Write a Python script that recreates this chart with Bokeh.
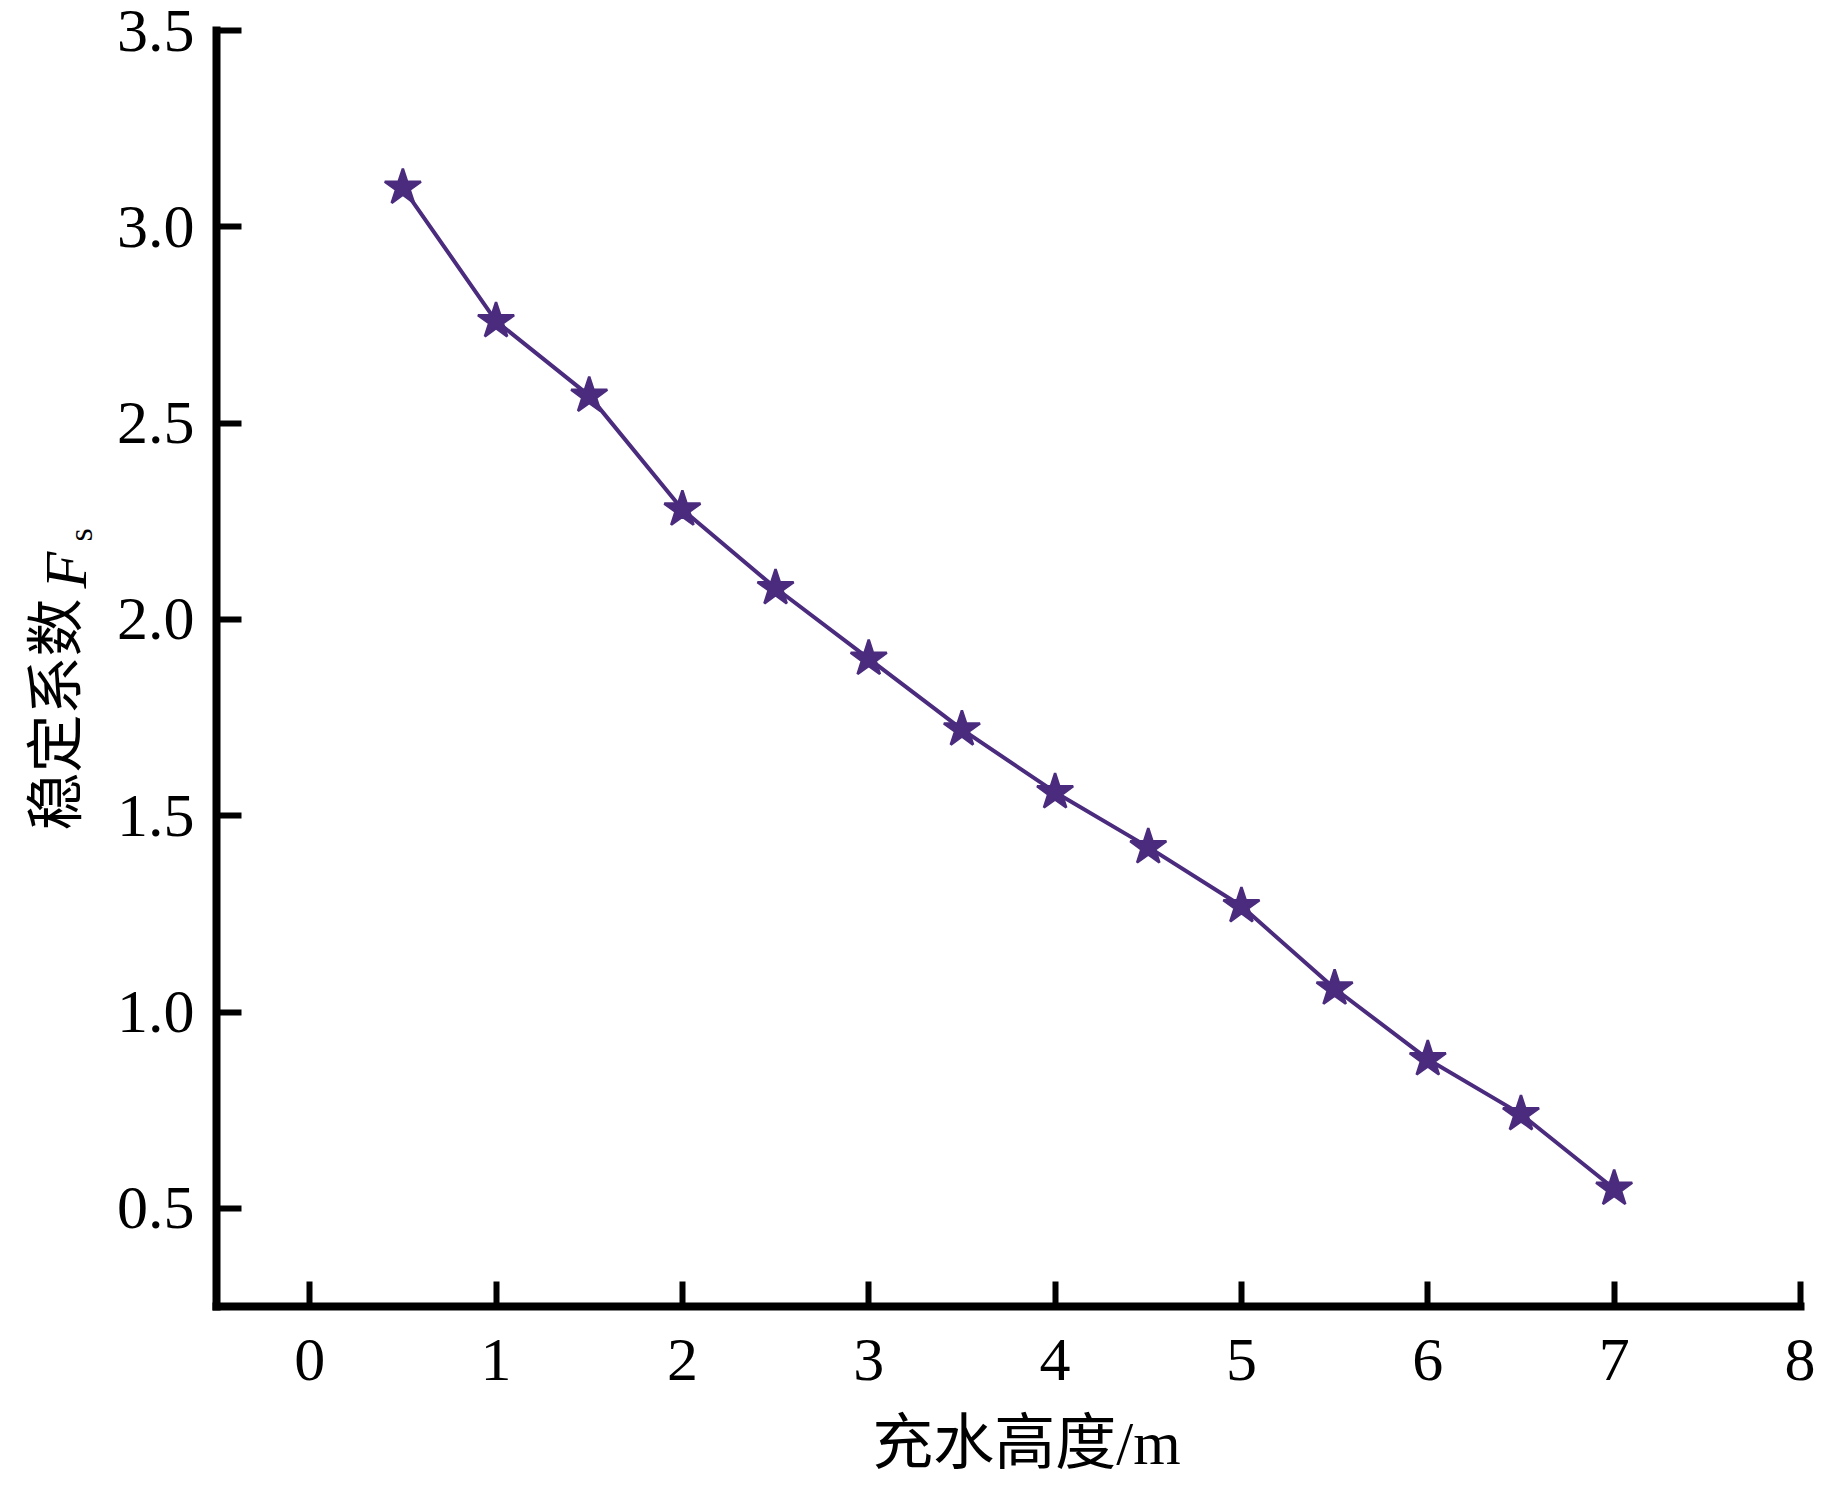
import math
from bokeh.plotting import figure
from bokeh.layouts import row, column
from bokeh.models import Range1d, FixedTicker, ColumnDataSource
from bokeh.core.properties import value
from bokeh.embed import file_html
from bokeh.resources import INLINE

# ---- data ----
fill_height = [0.5, 1.0, 1.5, 2.0, 2.5, 3.0, 3.5, 4.0, 4.5, 5.0, 5.5, 6.0, 6.5, 7.0]
stability_fs = [3.10, 2.76, 2.57, 2.28, 2.08, 1.90, 1.72, 1.56, 1.42, 1.27, 1.06, 0.88, 0.74, 0.55]
x_ticks = [0, 1, 2, 3, 4, 5, 6, 7, 8]
y_ticks = [0.5, 1.0, 1.5, 2.0, 2.5, 3.0, 3.5]
y_tick_labels = ["0.5", "1.0", "1.5", "2.0", "2.5", "3.0", "3.5"]
x_title = "充水高度/m"
y_title_main = "稳定系数"
y_title_sym = "F"
y_title_sub = "s"

SERIF = "Liberation Serif"
MIXED = "Liberation Serif, Noto Sans CJK SC"
COLOR = "#4a2b7d"
W = 1815
PH = 1398   # height of the chart row
BH = 90     # height of the strip holding the x title
TW = 100    # width of the strip holding the y title

# ---- main chart ----
p = figure(width=W - TW, height=PH, output_backend="svg", toolbar_location=None,
           x_range=Range1d(-0.5, 8), y_range=Range1d(0.25, 3.5),
           min_border_left=216 - TW, min_border_right=15, min_border_top=30,
           min_border_bottom=PH - 1306)
p.outline_line_color = None
p.grid.visible = False

for ax in (p.xaxis[0], p.yaxis[0]):
    ax.axis_line_width = 8
    ax.axis_line_color = "black"
    ax.axis_line_cap = "square"
    ax.major_tick_line_width = 6
    ax.major_tick_line_color = "black"
    ax.major_tick_in = 25
    ax.major_tick_out = 0
    ax.minor_tick_line_color = None
    ax.major_label_text_font = SERIF
    ax.major_label_text_font_size = "62px"
    ax.major_label_text_color = "black"

p.xaxis[0].ticker = FixedTicker(ticks=x_ticks)
p.yaxis[0].ticker = FixedTicker(ticks=y_ticks)
p.yaxis[0].major_label_overrides = {t: l for t, l in zip(y_ticks, y_tick_labels)}
p.xaxis[0].major_label_standoff = 33
p.yaxis[0].major_label_standoff = 22

src = ColumnDataSource(data=dict(x=fill_height, y=stability_fs))
p.line("x", "y", source=src, line_color=COLOR, line_width=4)
p.scatter("x", "y", source=src, marker="star", size=38, fill_color=COLOR,
          line_color=COLOR, line_width=2.5)

def strip(width, height, y0):
    f = figure(width=width, height=height, output_backend="svg", toolbar_location=None,
               x_range=Range1d(0, width), y_range=Range1d(y0 + height, y0),
               x_axis_location=None, y_axis_location=None,
               min_border_left=0, min_border_right=0, min_border_top=0,
               min_border_bottom=0)
    f.frame_align = False
    f.outline_line_color = None
    f.grid.visible = False
    return f

# ---- strip with the y-axis title (coordinates = page pixels) ----
t = strip(TW, PH, 0)
t.text(x=[50], y=[830], text=[y_title_main], angle=math.pi / 2,
       text_font=value("Noto Sans CJK SC"), text_font_size="58px",
       text_align="left", text_baseline="middle", text_color="black")
t.text(x=[65], y=[588], text=[y_title_sym], angle=math.pi / 2,
       text_font=value(SERIF), text_font_style="italic", text_font_size="60px",
       text_align="left", text_baseline="alphabetic", text_color="black")
t.text(x=[80], y=[541], text=[y_title_sub], angle=math.pi / 2,
       text_font=value(SERIF), text_font_size="34px",
       text_align="left", text_baseline="alphabetic", text_color="black")

# ---- strip with the x-axis title (coordinates = page pixels) ----
b = strip(W, BH, PH)
b.text(x=[1026], y=[1443], text=[x_title],
       text_font=value(MIXED), text_font_size="61px",
       text_align="center", text_baseline="middle", text_color="black")

layout = column(row(t, p), b)
open("out.html", "w").write(file_html(layout, INLINE))
